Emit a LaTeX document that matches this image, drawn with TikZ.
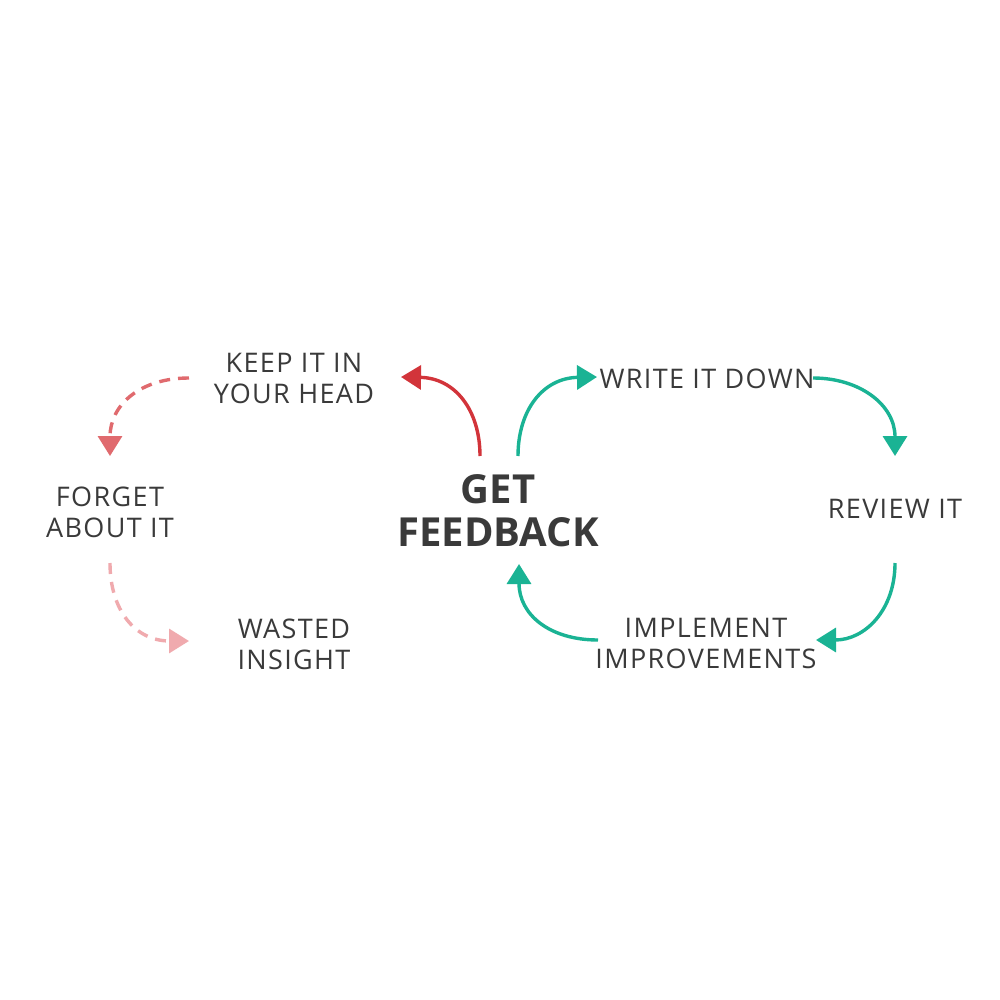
\documentclass[tikz,border=0pt]{standalone}
\usepackage{fontspec}
\setmainfont{Open Sans}[LetterSpace=5]
\usetikzlibrary{arrows.meta}
\definecolor{txt}{HTML}{3A3A3A}
\definecolor{redA}{HTML}{D2343A}
\definecolor{redB}{HTML}{E06A6E}
\definecolor{pinkC}{HTML}{F0AAAE}
\definecolor{teal}{HTML}{1AB394}
\begin{document}
\begin{tikzpicture}[x=1pt,y=-1pt,
  lbl/.style={text=txt,font=\fontsize{27}{31}\selectfont,align=center,inner sep=0pt},
  big/.style={text=txt,font=\fontsize{40}{43}\selectfont\bfseries\addfontfeatures{LetterSpace=0},align=center,inner sep=0pt},
  arr/.style={line width=3.4pt,-{Triangle[length=20pt,width=24pt]}},
  dsh/.style={dash pattern=on 11pt off 8pt}]
\fill[white] (0,0) rectangle (1000,1000);
\useasboundingbox (0,0) rectangle (1000,1000);
\node[lbl] (keep) at (294,378) {KEEP IT IN\\YOUR HEAD};
\node[big] (gf) at (498,511) {GET\\FEEDBACK};
\node[lbl] (write) at (707,379) {WRITE IT DOWN};
\node[lbl] (review) at (895,509) {REVIEW IT};
\node[lbl] (impl) at (706,643) {IMPLEMENT\\IMPROVEMENTS};
\node[lbl] (forget) at (110,512) {FORGET\\ABOUT IT};
\node[lbl] (waste) at (294,644) {WASTED\\INSIGHT};
% arrow endpoints
\coordinate (r1) at (480,456);
\coordinate (r2) at (401,377);
\coordinate (t1) at (518,456);
\coordinate (t2) at (597,377);
\coordinate (t3) at (813,378);
\coordinate (t4) at (895,456);
\coordinate (t5) at (895,563);
\coordinate (t6) at (816,640);
\coordinate (t7) at (598,640);
\coordinate (t8) at (519,564);
\coordinate (d1) at (189,378);
\coordinate (d2) at (110,456);
\coordinate (d3) at (110,563);
\coordinate (d4) at (189,641);
\draw[arr,redA] (r1) .. controls (480,410) and (455,378) .. (r2);
\draw[arr,teal] (t1) .. controls (518,410) and (543,378) .. (t2);
\draw[arr,teal] (t3) .. controls (860,378) and (895,405) .. (t4);
\draw[arr,teal] (t5) .. controls (895,610) and (865,640) .. (t6);
\draw[arr,teal] (t7) .. controls (550,640) and (519,615) .. (t8);
\draw[arr,dsh,redB] (d1) .. controls (140,378) and (110,405) .. (d2);
\draw[arr,dsh,pinkC] (d3) .. controls (110,610) and (135,641) .. (d4);
\end{tikzpicture}
\end{document}
